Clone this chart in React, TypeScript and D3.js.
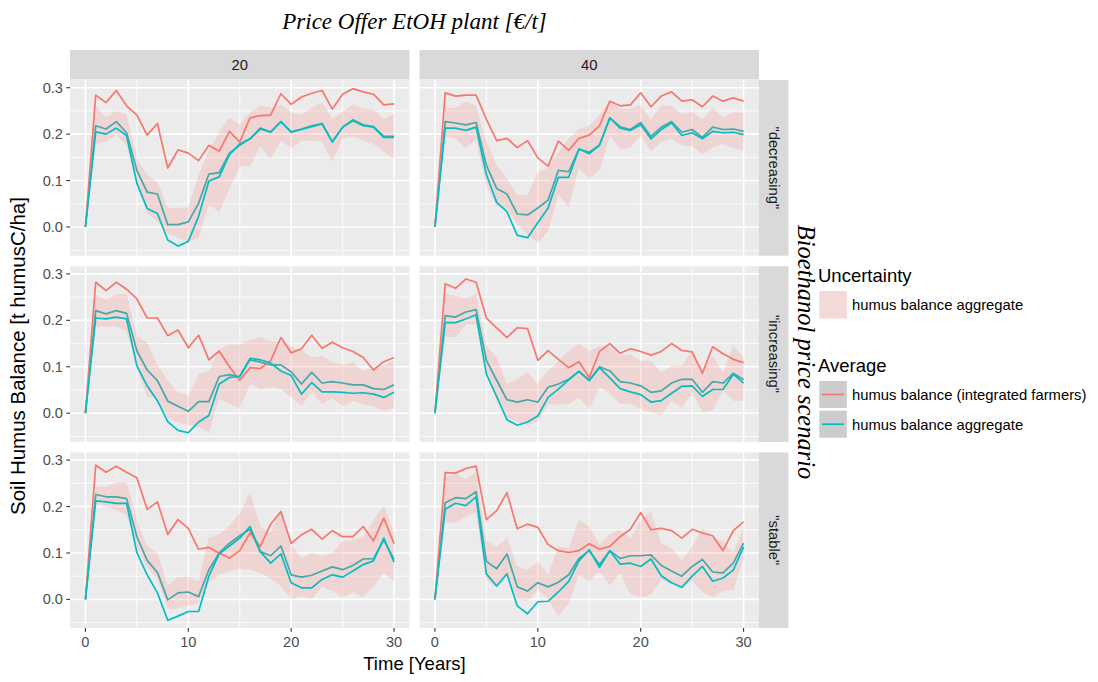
import React from "react";
import * as d3 from "d3";

// Simulation time axis (years) and facet levels
const YEARS = d3.range(0, 31);
const PRICE_OFFERS = ["20", "40"];
const SCENARIOS = ['"decreasing"', '"increasing"', '"stable"'];
const X_TICKS = [0, 10, 20, 30];
const X_MINOR = [5, 15, 25];
const Y_TICKS = [0, 0.1, 0.2, 0.3];
const Y_MINOR = [-0.05, 0.05, 0.15, 0.25];

// ---- decreasing, 20 €/t ----
const DEC20_FARMERS = [0, 0.284, 0.268, 0.294, 0.261, 0.241, 0.198, 0.223, 0.127, 0.166, 0.159, 0.143, 0.176, 0.163, 0.206, 0.183, 0.235, 0.24, 0.241, 0.287, 0.264, 0.28, 0.288, 0.294, 0.254, 0.286, 0.298, 0.291, 0.286, 0.263, 0.265];
const DEC20_AGG = [0, 0.205, 0.2, 0.213, 0.197, 0.094, 0.04, 0.029, -0.028, -0.041, -0.031, 0.023, 0.099, 0.108, 0.156, 0.179, 0.19, 0.213, 0.204, 0.227, 0.204, 0.21, 0.216, 0.222, 0.183, 0.215, 0.229, 0.218, 0.215, 0.193, 0.193];
const DEC20_MEAN = [0, 0.218, 0.211, 0.227, 0.203, 0.122, 0.075, 0.071, 0.005, 0.005, 0.011, 0.051, 0.114, 0.117, 0.159, 0.176, 0.19, 0.211, 0.205, 0.227, 0.205, 0.211, 0.218, 0.223, 0.184, 0.215, 0.231, 0.22, 0.216, 0.195, 0.195];
const DEC20_HIGH = [0, 0.261, 0.236, 0.25, 0.241, 0.147, 0.112, 0.097, 0.041, 0.041, 0.042, 0.112, 0.165, 0.204, 0.236, 0.22, 0.247, 0.261, 0.257, 0.264, 0.247, 0.241, 0.257, 0.268, 0.234, 0.247, 0.264, 0.254, 0.254, 0.232, 0.245];
const DEC20_LOW = [0, 0.176, 0.186, 0.198, 0.176, 0.09, 0.03, 0.012, -0.013, -0.023, -0.031, -0.023, 0.048, 0.033, 0.083, 0.131, 0.131, 0.174, 0.147, 0.186, 0.17, 0.186, 0.186, 0.184, 0.141, 0.191, 0.195, 0.186, 0.179, 0.163, 0.147];

// ---- decreasing, 40 €/t ----
const DEC40_FARMERS = [0, 0.289, 0.282, 0.284, 0.284, 0.232, 0.186, 0.191, 0.171, 0.186, 0.149, 0.131, 0.185, 0.165, 0.191, 0.198, 0.218, 0.271, 0.261, 0.263, 0.289, 0.259, 0.282, 0.291, 0.271, 0.274, 0.259, 0.282, 0.271, 0.278, 0.271];
const DEC40_AGG = [0, 0.213, 0.213, 0.208, 0.215, 0.113, 0.053, 0.033, -0.018, -0.023, 0.009, 0.041, 0.107, 0.107, 0.168, 0.158, 0.176, 0.235, 0.213, 0.208, 0.22, 0.19, 0.21, 0.224, 0.197, 0.203, 0.19, 0.206, 0.203, 0.204, 0.199];
const DEC40_MEAN = [0, 0.227, 0.224, 0.22, 0.225, 0.133, 0.083, 0.071, 0.028, 0.026, 0.041, 0.058, 0.122, 0.119, 0.168, 0.161, 0.177, 0.235, 0.216, 0.21, 0.225, 0.195, 0.215, 0.227, 0.204, 0.21, 0.193, 0.215, 0.21, 0.211, 0.206];
const DEC40_HIGH = [0, 0.259, 0.256, 0.271, 0.261, 0.183, 0.133, 0.104, 0.069, 0.069, 0.119, 0.127, 0.161, 0.19, 0.211, 0.218, 0.241, 0.271, 0.254, 0.254, 0.264, 0.232, 0.261, 0.261, 0.243, 0.248, 0.232, 0.257, 0.236, 0.247, 0.245];
const DEC40_LOW = [0, 0.195, 0.19, 0.17, 0.188, 0.09, 0.044, 0.041, 0.005, -0.016, -0.034, -0.009, 0.069, 0.042, 0.127, 0.104, 0.122, 0.197, 0.167, 0.172, 0.197, 0.163, 0.183, 0.19, 0.176, 0.174, 0.156, 0.172, 0.179, 0.17, 0.165];

// ---- increasing, 20 €/t ----
const INC20_FARMERS = [0, 0.282, 0.264, 0.282, 0.267, 0.246, 0.205, 0.205, 0.167, 0.179, 0.141, 0.168, 0.115, 0.134, 0.1, 0.071, 0.098, 0.096, 0.113, 0.163, 0.13, 0.139, 0.168, 0.14, 0.153, 0.141, 0.133, 0.12, 0.093, 0.111, 0.12];
const INC20_AGG = [0, 0.205, 0.203, 0.207, 0.203, 0.102, 0.059, 0.027, -0.018, -0.037, -0.042, -0.019, -0.005, 0.063, 0.077, 0.079, 0.118, 0.115, 0.108, 0.091, 0.081, 0.041, 0.066, 0.046, 0.046, 0.045, 0.043, 0.044, 0.041, 0.034, 0.045];
const INC20_MEAN = [0, 0.221, 0.214, 0.221, 0.215, 0.134, 0.093, 0.07, 0.026, 0.015, 0.004, 0.025, 0.025, 0.079, 0.083, 0.079, 0.115, 0.11, 0.104, 0.104, 0.089, 0.063, 0.088, 0.065, 0.068, 0.065, 0.061, 0.061, 0.053, 0.051, 0.061];
const INC20_HIGH = [0, 0.255, 0.244, 0.257, 0.257, 0.166, 0.152, 0.105, 0.07, 0.045, 0.038, 0.084, 0.091, 0.138, 0.148, 0.148, 0.158, 0.164, 0.154, 0.155, 0.145, 0.135, 0.12, 0.123, 0.11, 0.105, 0.109, 0.091, 0.098, 0.102, 0.114];
const INC20_LOW = [0, 0.187, 0.186, 0.187, 0.177, 0.1, 0.034, 0.034, -0.01, -0.02, -0.025, -0.03, -0.041, 0.031, 0.02, 0.011, 0.063, 0.052, 0.056, 0.052, 0.034, 0.016, 0.047, 0.02, 0.033, 0.015, 0.027, 0.019, 0.015, 0.004, 0.011];

// ---- increasing, 40 €/t ----
const INC40_FARMERS = [0, 0.279, 0.269, 0.289, 0.282, 0.205, 0.184, 0.163, 0.184, 0.182, 0.114, 0.135, 0.116, 0.098, 0.111, 0.077, 0.133, 0.15, 0.129, 0.139, 0.133, 0.125, 0.133, 0.15, 0.135, 0.132, 0.086, 0.143, 0.128, 0.116, 0.109];
const INC40_AGG = [0, 0.195, 0.195, 0.203, 0.212, 0.084, 0.036, -0.014, -0.026, -0.019, -0.006, 0.034, 0.052, 0.072, 0.09, 0.07, 0.098, 0.076, 0.053, 0.046, 0.04, 0.024, 0.027, 0.043, 0.058, 0.059, 0.036, 0.051, 0.051, 0.084, 0.065];
const INC40_MEAN = [0, 0.21, 0.207, 0.218, 0.223, 0.114, 0.071, 0.029, 0.024, 0.029, 0.024, 0.056, 0.063, 0.073, 0.09, 0.071, 0.1, 0.091, 0.068, 0.065, 0.059, 0.045, 0.048, 0.065, 0.073, 0.073, 0.045, 0.068, 0.065, 0.086, 0.072];
const INC40_HIGH = [0, 0.257, 0.253, 0.246, 0.257, 0.145, 0.12, 0.063, 0.073, 0.088, 0.063, 0.091, 0.113, 0.134, 0.15, 0.134, 0.145, 0.143, 0.123, 0.127, 0.113, 0.113, 0.088, 0.102, 0.102, 0.135, 0.096, 0.123, 0.088, 0.145, 0.12];
const INC40_LOW = [0, 0.166, 0.163, 0.191, 0.191, 0.09, 0.027, -0.009, -0.019, -0.026, -0.019, 0.02, 0.019, 0.02, 0.034, 0.009, 0.056, 0.043, 0.02, 0.021, 0.009, 0.002, -0.004, 0.027, 0.013, 0.045, 0.002, 0.006, 0.05, 0.027, 0.027];

// ---- stable, 20 €/t ----
const STA20_FARMERS = [0, 0.289, 0.274, 0.287, 0.274, 0.262, 0.194, 0.21, 0.14, 0.172, 0.153, 0.108, 0.112, 0.1, 0.089, 0.105, 0.143, 0.114, 0.162, 0.189, 0.121, 0.139, 0.151, 0.13, 0.148, 0.135, 0.135, 0.157, 0.126, 0.175, 0.12];
const STA20_AGG = [0, 0.212, 0.21, 0.207, 0.207, 0.101, 0.053, 0.014, -0.045, -0.036, -0.026, -0.026, 0.05, 0.098, 0.115, 0.132, 0.157, 0.103, 0.078, 0.098, 0.036, 0.025, 0.025, 0.043, 0.053, 0.048, 0.061, 0.075, 0.083, 0.132, 0.08];
const STA20_MEAN = [0, 0.226, 0.221, 0.221, 0.217, 0.135, 0.084, 0.058, -0.001, 0.014, 0.016, 0.006, 0.064, 0.1, 0.121, 0.137, 0.151, 0.103, 0.094, 0.115, 0.053, 0.048, 0.052, 0.061, 0.07, 0.064, 0.073, 0.087, 0.088, 0.128, 0.086];
const STA20_HIGH = [0, 0.244, 0.242, 0.252, 0.253, 0.171, 0.114, 0.1, 0.029, 0.048, 0.048, 0.039, 0.132, 0.141, 0.159, 0.185, 0.232, 0.157, 0.143, 0.196, 0.118, 0.089, 0.1, 0.094, 0.1, 0.125, 0.128, 0.135, 0.17, 0.203, 0.143];
const STA20_LOW = [0, 0.207, 0.2, 0.192, 0.182, 0.114, 0.071, 0.043, -0.021, -0.019, -0.014, -0.007, 0.036, 0.053, 0.061, 0.066, 0.064, 0.057, 0.044, 0.029, 0.0, 0.007, 0.001, 0.027, 0.018, 0.004, 0.016, 0.004, 0.029, 0.057, 0.039];

// ---- stable, 40 €/t ----
const STA40_FARMERS = [0, 0.273, 0.272, 0.282, 0.287, 0.172, 0.191, 0.23, 0.152, 0.162, 0.155, 0.118, 0.105, 0.101, 0.105, 0.12, 0.108, 0.114, 0.135, 0.151, 0.187, 0.15, 0.153, 0.148, 0.132, 0.151, 0.143, 0.137, 0.105, 0.148, 0.167];
const STA40_AGG = [0, 0.194, 0.207, 0.202, 0.221, 0.055, 0.029, 0.055, -0.014, -0.031, -0.005, -0.004, 0.016, 0.039, 0.083, 0.107, 0.069, 0.105, 0.076, 0.078, 0.071, 0.087, 0.051, 0.036, 0.026, 0.05, 0.071, 0.039, 0.046, 0.063, 0.113];
const STA40_MEAN = [0, 0.208, 0.219, 0.217, 0.232, 0.082, 0.066, 0.098, 0.027, 0.018, 0.036, 0.027, 0.037, 0.053, 0.088, 0.105, 0.075, 0.105, 0.088, 0.094, 0.094, 0.096, 0.073, 0.061, 0.05, 0.071, 0.086, 0.059, 0.057, 0.078, 0.121];
const STA40_HIGH = [0, 0.262, 0.271, 0.259, 0.274, 0.125, 0.114, 0.132, 0.071, 0.064, 0.082, 0.053, 0.114, 0.11, 0.171, 0.157, 0.118, 0.141, 0.15, 0.132, 0.172, 0.189, 0.121, 0.11, 0.084, 0.114, 0.153, 0.132, 0.125, 0.1, 0.157];
const STA40_LOW = [0, 0.167, 0.165, 0.178, 0.189, 0.043, 0.025, 0.053, 0.0, -0.004, 0.021, 0.0, -0.036, -0.007, 0.053, 0.039, 0.061, 0.03, 0.057, 0.011, 0.004, 0.011, 0.043, 0.032, 0.029, 0.039, 0.016, 0.004, 0.018, 0.021, 0.089];

// Facet table: [row][col]
const PANELS = [
  [
    { farmers: DEC20_FARMERS, agg: DEC20_AGG, mean: DEC20_MEAN, high: DEC20_HIGH, low: DEC20_LOW },
    { farmers: DEC40_FARMERS, agg: DEC40_AGG, mean: DEC40_MEAN, high: DEC40_HIGH, low: DEC40_LOW },
  ],
  [
    { farmers: INC20_FARMERS, agg: INC20_AGG, mean: INC20_MEAN, high: INC20_HIGH, low: INC20_LOW },
    { farmers: INC40_FARMERS, agg: INC40_AGG, mean: INC40_MEAN, high: INC40_HIGH, low: INC40_LOW },
  ],
  [
    { farmers: STA20_FARMERS, agg: STA20_AGG, mean: STA20_MEAN, high: STA20_HIGH, low: STA20_LOW },
    { farmers: STA40_FARMERS, agg: STA40_AGG, mean: STA40_MEAN, high: STA40_HIGH, low: STA40_LOW },
  ],
];

const RED = "#F8766D";
const CYAN = "#00BFC4";
const TEAL = "#45A8A9";
const SANS = "'Liberation Sans', Arial, Helvetica, sans-serif";
const SERIF = "'Liberation Serif', 'Times New Roman', serif";

const W = 1098;
const H = 682;
const PANEL_X0 = 70;
const PANEL_Y0 = 80;
const PANEL_W = 339.5;
const PANEL_H = 175.7;
const GAP_X = 10;
const GAP_Y = 10.5;
const STRIP = 29.5;

const x = d3.scaleLinear().domain([-1.5, 31.5]).range([0, PANEL_W]);
const y = d3.scaleLinear().domain([-0.0618, 0.3166]).range([PANEL_H, 0]);

const lineGen = d3
  .line<number>()
  .x((_, i) => x(YEARS[i]))
  .y((d) => y(d));

const Panel = ({ data, tx, ty }: { data: any; tx: number; ty: number }) => {
  const area = d3
    .area<number>()
    .x((t) => x(t))
    .y0((_, i) => y(data.low[i]))
    .y1((_, i) => y(data.high[i]));
  return (
    <g transform={`translate(${tx},${ty})`}>
      <rect width={PANEL_W} height={PANEL_H} fill="#EBEBEB" />
      {Y_MINOR.map((v) => (
        <line key={"ym" + v} x1={0} x2={PANEL_W} y1={y(v)} y2={y(v)} stroke="#fff" strokeWidth={0.8} />
      ))}
      {X_MINOR.map((v) => (
        <line key={"xm" + v} x1={x(v)} x2={x(v)} y1={0} y2={PANEL_H} stroke="#fff" strokeWidth={0.8} />
      ))}
      {Y_TICKS.map((v) => (
        <line key={"y" + v} x1={0} x2={PANEL_W} y1={y(v)} y2={y(v)} stroke="#fff" strokeWidth={1.6} />
      ))}
      {X_TICKS.map((v) => (
        <line key={"x" + v} x1={x(v)} x2={x(v)} y1={0} y2={PANEL_H} stroke="#fff" strokeWidth={1.6} />
      ))}
      <path d={area(YEARS) || ""} fill={RED} fillOpacity={0.2} />
      <path d={lineGen(data.mean) || ""} fill="none" stroke={TEAL} strokeWidth={1.7} strokeLinejoin="round" />
      <path d={lineGen(data.farmers) || ""} fill="none" stroke={RED} strokeWidth={1.7} strokeLinejoin="round" />
      <path d={lineGen(data.agg) || ""} fill="none" stroke={CYAN} strokeWidth={1.7} strokeLinejoin="round" />
    </g>
  );
};

export default function App() {
  const colX = (c: number) => PANEL_X0 + c * (PANEL_W + GAP_X);
  const rowY = (r: number) => PANEL_Y0 + r * (PANEL_H + GAP_Y);
  const rightEdge = colX(1) + PANEL_W;
  const bottomEdge = rowY(2) + PANEL_H;
  const midX = (PANEL_X0 + rightEdge) / 2;
  const midY = (PANEL_Y0 + bottomEdge) / 2;

  return (
    <svg
      width={W}
      height={H}
      style={{ position: "absolute", left: 0, top: 0, background: "#fff" }}
      fontFamily={SANS}
    >
      <rect width={W} height={H} fill="#fff" />

      {/* facet title */}
      <text x={midX} y={29} textAnchor="middle" fontFamily={SERIF} fontStyle="italic" fontSize={23} fill="#000">
        Price Offer EtOH plant [€/t]
      </text>

      {/* column strips */}
      {PRICE_OFFERS.map((p, c) => (
        <g key={p}>
          <rect x={colX(c)} y={PANEL_Y0 - STRIP - 0.5} width={PANEL_W} height={STRIP} fill="#D9D9D9" />
          <text x={colX(c) + PANEL_W / 2} y={PANEL_Y0 - STRIP / 2 - 0.5} textAnchor="middle" dominantBaseline="central" fontSize={14.8} fill="#1A1A1A">
            {p}
          </text>
        </g>
      ))}

      {/* row strips */}
      {SCENARIOS.map((s, r) => (
        <g key={s}>
          <rect x={rightEdge} y={rowY(r)} width={STRIP} height={PANEL_H} fill="#D9D9D9" />
          <text
            transform={`translate(${rightEdge + STRIP / 2},${rowY(r) + PANEL_H / 2}) rotate(90)`}
            textAnchor="middle"
            dominantBaseline="central"
            fontSize={14.8}
            fill="#1A1A1A"
          >
            {s}
          </text>
        </g>
      ))}

      {/* panels */}
      {PANELS.map((row, r) =>
        row.map((data, c) => <Panel key={`${r}-${c}`} data={data} tx={colX(c)} ty={rowY(r)} />)
      )}

      {/* y axis */}
      {SCENARIOS.map((s, r) => (
        <g key={"ya" + s} transform={`translate(${PANEL_X0},${rowY(r)})`}>
          {Y_TICKS.map((v) => (
            <g key={v}>
              <line x1={-3.7} x2={0} y1={y(v)} y2={y(v)} stroke="#333" strokeWidth={1.1} />
              <text x={-7} y={y(v)} textAnchor="end" dominantBaseline="central" fontSize={14.6} fill="#4D4D4D">
                {d3.format(".1f")(v)}
              </text>
            </g>
          ))}
        </g>
      ))}

      {/* x axis */}
      {PRICE_OFFERS.map((p, c) => (
        <g key={"xa" + p} transform={`translate(${colX(c)},${bottomEdge})`}>
          {X_TICKS.map((v) => (
            <g key={v}>
              <line x1={x(v)} x2={x(v)} y1={0} y2={3.7} stroke="#333" strokeWidth={1.1} />
              <text x={x(v)} y={14} textAnchor="middle" dominantBaseline="central" fontSize={14.6} fill="#4D4D4D">
                {v}
              </text>
            </g>
          ))}
        </g>
      ))}

      {/* axis titles */}
      <text x={midX} y={670} textAnchor="middle" fontSize={18.5} fill="#000">
        Time [Years]
      </text>
      <text transform={`translate(25,${midY + 2}) rotate(-90)`} textAnchor="middle" fontSize={20.5} fill="#000">
        Soil Humus Balance [t humusC/ha]
      </text>
      <text
        transform={`translate(798,${midY - 2}) rotate(90)`}
        textAnchor="middle"
        fontFamily={SERIF}
        fontStyle="italic"
        fontSize={24.5}
        fill="#000"
      >
        Bioethanol price scenario
      </text>

      {/* legend */}
      <g>
        <text x={818} y={282} fontSize={18.5} fill="#000">Uncertainty</text>
        <rect x={819.3} y={291} width={27.5} height={27.5} fill="#F2F2F2" />
        <rect x={819.3} y={291} width={27.5} height={27.5} fill={RED} fillOpacity={0.2} />
        <text x={852} y={305} dominantBaseline="central" fontSize={14.8} fill="#000">humus balance aggregate</text>

        <text x={818} y={372} fontSize={18.5} fill="#000">Average</text>
        {[
          { label: "humus balance (integrated farmers)", color: RED },
          { label: "humus balance aggregate", color: CYAN },
        ].map((k, i) => {
          const ky = 381 + i * 29.7;
          return (
            <g key={k.label}>
              <rect x={819.3} y={ky} width={27.5} height={27} fill="#CCCCCC" />
              <line x1={822} x2={844} y1={ky + 13.5} y2={ky + 13.5} stroke={k.color} strokeWidth={1.7} />
              <text x={852} y={ky + 14} dominantBaseline="central" fontSize={14.8} fill="#000">
                {k.label}
              </text>
            </g>
          );
        })}
      </g>
    </svg>
  );
}
